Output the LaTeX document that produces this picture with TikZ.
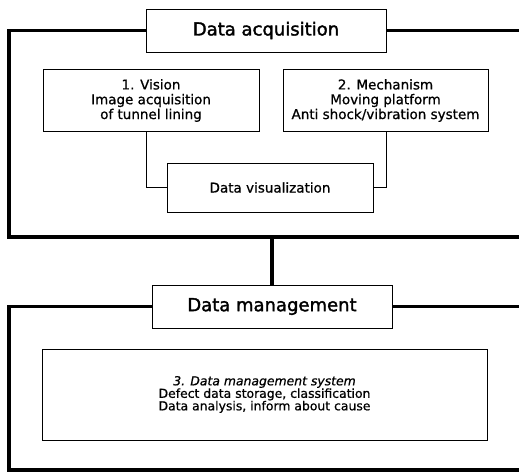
\documentclass[tikz,border=0pt]{standalone}
\usepackage{fontspec}
\setmainfont{DejaVu Sans}[RawFeature={embolden=0.8}]
\newfontfamily\headfont{DejaVu Sans}[RawFeature={embolden=1.8}]
\begin{document}
\begin{tikzpicture}
	[x=1pt,y=-1pt,
	box/.style={draw,line width=.9pt,inner sep=0pt,align=center,font=\fontsize{13.5}{14.8}\selectfont},
	headbox/.style={box,minimum width=240pt,minimum height=43pt,font=\headfont\fontsize{18}{20}\selectfont},
	frame/.style={line width=3.2pt},
	link/.style={line width=.9pt}]
	\useasboundingbox (0,0) rectangle (519,472);
	% first block
	\node[headbox,fill=white] (acq) at (266,30.5) {Data acquisition};
	\node[box,minimum width=216pt,minimum height=62pt] (vision) at (151,100.5) {1. Vision\\Image acquisition\\of tunnel lining};
	\node[box,minimum width=205pt,minimum height=62pt] (mech) at (385.5,100.5) {2. Mechanism\\Moving platform\\Anti shock/vibration system};
	\node[box,minimum width=206pt,minimum height=49pt] (vis) at (270,187.5) {Data visualization};
	\coordinate (acqend) at (519,30.5);
	\coordinate (acqbot) at (519,237);
	\coordinate (acqmid) at (272,237);
	\draw[frame] (acq.west) -| (9,237) -- (acqbot);
	\draw[frame] (acq.east) -- (acqend);
	\draw[link] ([xshift=-5pt]vision.south) |- (vis.west);
	\draw[link] ([xshift=.5pt]mech.south) |- (vis.east);
	% second block
	\node[headbox] (man) at (272,306.5) {Data management};
	\node[box,minimum width=445pt,minimum height=91pt,font=\fontsize{12.4}{12.5}\selectfont] (dms) at (264.5,394.5) {\itshape 3. Data management system\\Defect data storage, classification\\Data analysis, inform about cause};
	\coordinate (manend) at (519,306.5);
	\coordinate (manbot) at (519,470);
	\draw[frame] (acqmid) -- (man.north);
	\draw[frame] (man.west) -| (9,470) -- (manbot);
	\draw[frame] (man.east) -- (manend);
\end{tikzpicture}
\end{document}
